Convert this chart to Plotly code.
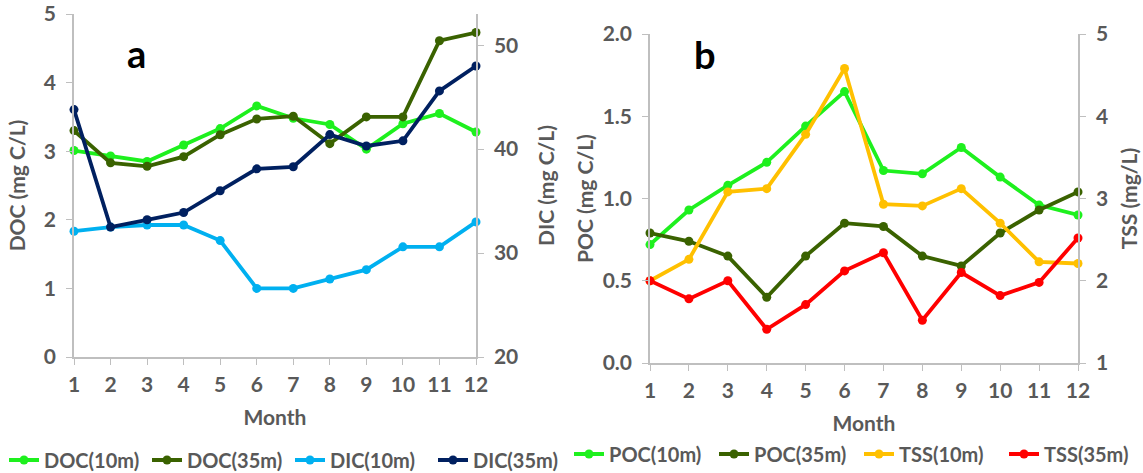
import plotly.graph_objects as go

months = list(range(1, 13))

doc_10m = [3.01, 2.93, 2.85, 3.09, 3.33, 3.66, 3.48, 3.39, 3.03, 3.40, 3.55, 3.28]
doc_35m = [3.30, 2.83, 2.78, 2.92, 3.24, 3.47, 3.51, 3.11, 3.50, 3.50, 4.61, 4.73]
dic_10m = [32.1, 32.5, 32.7, 32.7, 31.2, 26.6, 26.6, 27.5, 28.4, 30.6, 30.6, 33.0]
dic_35m = [43.8, 32.5, 33.2, 33.9, 36.0, 38.1, 38.3, 41.4, 40.3, 40.8, 45.6, 48.0]

poc_10m = [0.72, 0.93, 1.08, 1.22, 1.44, 1.65, 1.17, 1.15, 1.31, 1.13, 0.96, 0.90]
poc_35m = [0.79, 0.74, 0.65, 0.40, 0.65, 0.85, 0.83, 0.65, 0.59, 0.79, 0.93, 1.04]
tss_10m = [2.00, 2.26, 3.08, 3.12, 3.78, 4.58, 2.93, 2.91, 3.12, 2.70, 2.23, 2.21]
tss_35m = [2.00, 1.78, 2.00, 1.41, 1.71, 2.12, 2.34, 1.52, 2.10, 1.82, 1.98, 2.52]

FONT = "Lato"
GRAY = "#595959"
AXC = "#BFBFBF"

fig = go.Figure()

def add(y, name, color, xa, ya, legend):
    fig.add_trace(go.Scatter(
        x=months, y=y, name=name, mode="lines+markers",
        line=dict(color=color, width=3.8),
        marker=dict(color=color, size=9),
        xaxis=xa, yaxis=ya, legend=legend, cliponaxis=False))

add(doc_10m, "DOC(10m)", "#1EF01E", "x", "y", "legend")
add(doc_35m, "DOC(35m)", "#3A6200", "x", "y", "legend")
add(dic_10m, "DIC(10m)", "#00B0F0", "x", "y2", "legend")
add(dic_35m, "DIC(35m)", "#002060", "x", "y2", "legend")
add(poc_10m, "POC(10m)", "#1EF01E", "x2", "y3", "legend2")
add(poc_35m, "POC(35m)", "#3A6200", "x2", "y3", "legend2")
add(tss_10m, "TSS(10m)", "#FFC000", "x2", "y4", "legend2")
add(tss_35m, "TSS(35m)", "#FF0000", "x2", "y4", "legend2")

W, H = 1143, 473
def px(x):
    return x / W
def py(y):
    return 1 - y / H

tickfont = dict(family=FONT, size=21, color=GRAY, weight="bold")
titlefont = dict(family=FONT, size=21, color=GRAY, weight="bold")
legfont = dict(family=FONT, size=20, color=GRAY, weight="bold")

xcommon = dict(range=[1, 12], tickvals=months, showgrid=False, zeroline=False,
               showline=True, linecolor=AXC, linewidth=1.5, ticks="outside",
               ticklen=6, tickcolor=AXC, tickfont=tickfont, automargin=False,
               ticklabelstandoff=2)
ycommon = dict(showgrid=False, zeroline=False, showline=True, linecolor=AXC,
               linewidth=1.5, ticks="outside", ticklen=6, tickcolor=AXC,
               tickfont=tickfont, automargin=False, ticklabelstandoff=6)

fig.update_layout(
    width=W, height=H,
    margin=dict(l=0, r=0, t=0, b=0, autoexpand=False),
    paper_bgcolor="white", plot_bgcolor="white",
    font=dict(family=FONT, color=GRAY),
    xaxis=dict(domain=[px(74), px(476)], anchor="y",
               title=dict(text="Month", font=titlefont, standoff=15), **xcommon),
    yaxis=dict(domain=[py(357), py(14)], anchor="x", range=[0, 5], dtick=1,
               title=dict(text="DOC (mg C/L)", font=titlefont, standoff=13), **ycommon),
    yaxis2=dict(overlaying="y", side="right", anchor="x", range=[20, 53],
                tickvals=[20, 30, 40, 50],
                title=dict(text="DIC (mg C/L)", font=titlefont, standoff=22), **ycommon),
    xaxis2=dict(domain=[px(650), px(1078)], anchor="y3",
                title=dict(text="Month", font=titlefont, standoff=15), **xcommon),
    yaxis3=dict(domain=[py(363), py(34)], anchor="x2", range=[0, 2], dtick=0.5,
                tickformat=".1f",
                title=dict(text="POC (mg C/L)", font=titlefont, standoff=3), **ycommon),
    yaxis4=dict(overlaying="y3", side="right", anchor="x2", range=[1, 5], dtick=1,
                title=dict(text="TSS (mg/L)", font=titlefont, standoff=15), **ycommon),
    legend=dict(orientation="h", x=px(4), y=py(460), xanchor="left", yanchor="middle",
                font=legfont, itemwidth=30, entrywidth=98, bgcolor="rgba(0,0,0,0)"),
    legend2=dict(orientation="h", x=px(569), y=py(454), xanchor="left", yanchor="middle",
                 font=legfont, itemwidth=30, entrywidth=100, bgcolor="rgba(0,0,0,0)"),
    annotations=[
        dict(text="a", x=px(136), y=py(53), xref="paper", yref="paper",
             xanchor="center", yanchor="middle", showarrow=False,
             font=dict(family=FONT, size=38, color="black", weight="bold")),
        dict(text="b", x=px(705), y=py(54), xref="paper", yref="paper",
             xanchor="center", yanchor="middle", showarrow=False,
             font=dict(family=FONT, size=38, color="black", weight="bold")),
    ],
)

fig.write_html("out.html", config={"displayModeBar": False},
               post_script="document.body.style.margin='0px';")
